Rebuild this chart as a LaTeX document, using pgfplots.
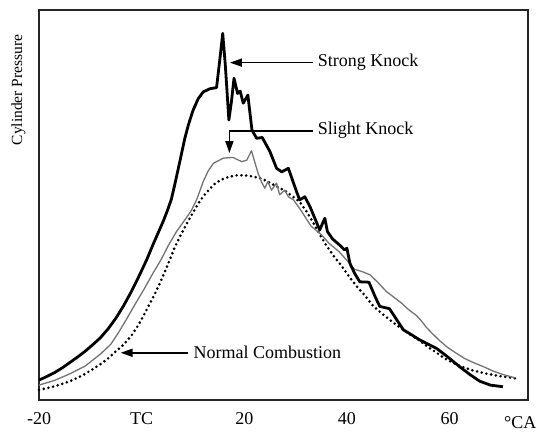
\documentclass[border=0pt]{standalone}
\usepackage{fontspec}
\setmainfont{Liberation Serif}
\usepackage{pgfplots}
\pgfplotsset{compat=1.18}
\usetikzlibrary{arrows.meta}

\begin{document}
\begin{tikzpicture}
\begin{axis}[
  scale only axis,
  width=489pt, height=390pt,
  xmin=-20, xmax=75.3, ymin=0, ymax=100,
  axis line style={line width=1.8pt, black!85},
  xtick={-20,0,20,40,60},
  xticklabels={-20,TC,20,40,60},
  ytick=\empty,
  major tick length=0pt,
  xticklabel style={font=\fontsize{18}{18}\selectfont, inner sep=0pt, yshift=-12pt},
  clip=false,
  ]
  % invisible frame that fixes the picture size
  \path (rel axis cs:-0.0798,-0.082) rectangle (rel axis cs:1.0286,1.0256);

  % normal combustion (dotted)
  \addplot[black, line width=2.9pt, line cap=round, dash pattern=on 0pt off 4.8pt] coordinates {
    (-20,2.6) (-18.5,3.0) (-17,3.5) (-15.5,4.1) (-14,4.8) (-12.5,5.7) (-11,6.7)
    (-9.5,7.9) (-8,9.2) (-6.5,10.7) (-5,12.5) (-3.5,14.2) (-2,16.5) (-0.5,19.5)
    (0.6,22.2) (1.5,24.5) (2.5,27) (3.5,29.8) (4.5,32.8) (5.5,36) (6.5,39.3)
    (7.7,42.5) (8.9,45.5) (10,48) (11,50.3) (12,52.2) (13.2,54) (14.3,55.5)
    (15.5,56.5) (17,57.2) (18.5,57.6) (20,57.6) (21.7,57.3) (23.5,56.7) (25,55.7)
    (26.5,54.6) (28,53.6) (29.5,52.1) (30.8,50.8) (32,48.6) (33.3,45.8) (34.7,42.5)
    (36,39.6) (37.5,36.8) (39,34.3) (40.5,31.5) (42,29.0) (43.5,26.8) (45,24.3)
    (46.5,22.5) (48,20.9) (49.5,19.4) (51,18.0) (52.5,16.6) (54.2,15.2) (56,13.4)
    (57.5,12.1) (59,10.7) (60.7,9.5) (62.5,8.5) (64.5,7.6) (67,6.8) (69,6.3)
    (71,5.9) (73,5.5)
  };

  % slight knock (thin grey)
  \addplot[black!55, line width=1.3pt, line join=round] coordinates {
    (-20,3.8) (-17,5.0) (-14,6.7) (-11,8.7) (-8,11.8) (-6,14.3) (-4.6,17.1)
    (-3,20.6) (-1.3,24.5) (0.6,28.7) (2.2,32.5) (3.8,36) (5.2,39.6) (6.8,43.2)
    (8.5,46.3) (9.7,48.6) (10.7,51.3) (11.4,53.8) (12.0,56.0) (13.0,58.8)
    (14.0,60.7) (15.9,62.0) (17.8,62.2) (19.5,61.1) (20.5,61.5) (21.4,63.9)
    (22.7,58.1) (23.4,55.8) (24.0,54.3) (24.6,56.0) (25.3,53.8) (26.3,55.6)
    (26.9,52.6) (27.9,53.8) (28.6,52.1) (29.6,51.3) (31.0,48.7) (33.0,44.6)
    (35.0,42.4) (36.5,40.2) (38.5,38.0) (40.4,35.2) (41.5,33.5) (43,32.9)
    (44.5,32.1) (46,30.2) (47.7,27.8) (49,26.5) (50.5,25) (52,23.2) (53.6,21.6)
    (54.5,20.3) (55.5,18.6) (56.6,17.1) (58,15.3) (59.5,13.6) (61.3,12.0)
    (63,10.6) (64.8,9.5) (66.7,8.5) (68.5,7.4) (70.5,6.5) (72.7,5.7)
  };

  % strong knock (thick black)
  \addplot[black, line width=2.8pt, line join=round] coordinates {
    (-20,5.1) (-18.5,6.0) (-17,7.0) (-15.5,8.2) (-14,9.6) (-12.5,11.0) (-11,12.5)
    (-9.5,14.2) (-8,16.0) (-6.5,18.3) (-5,21.0) (-3.5,24.2) (-2,27.8) (-0.5,31.8)
    (1,36.0) (2.2,39.8) (3.2,42.8) (4.2,45.8) (5.0,48.5) (5.8,51.5) (6.5,55.5)
    (7.5,61.5) (8.4,67.0) (9.1,70.5) (10.0,74.2) (11.0,77.2) (12.0,79.0)
    (13.3,79.8) (14.6,80.1) (15.3,88) (15.8,94.0) (16.3,86) (17.0,71.8)
    (17.5,76.5) (18.0,82.5) (18.7,78.6) (19.2,79.2) (19.8,76.1) (20.7,78.2)
    (21.5,69.2) (22.4,67.1) (23.5,67.3) (25.0,63.7) (26.3,59.4) (27.3,58.5)
    (28.6,59.4) (29.5,56.0) (30.2,53.4) (30.8,51.3) (31.8,52.1) (32.8,49.6)
    (34.7,43.6) (35.7,46.6) (36.2,43.2) (37.2,41.3) (38.6,39.7) (39.5,38.5)
    (40.0,38.9) (40.6,35.0) (41.5,32.5) (42.5,30.3) (44.3,30.2) (45.5,26.5)
    (46.4,24.0) (48.3,23.4) (49.5,21.0) (51.0,18.0) (52.5,16.8) (54.2,15.4)
    (56,14.2) (57.5,13.2) (59.5,11.2) (62.0,8.5) (64,6.5) (65.9,4.8) (68,3.8)
    (70.4,3.4)
  };

  % annotations
  \draw[line width=1.6pt, -{Triangle[length=12pt,width=8pt]}] (axis cs:33.3,86.5) -- (axis cs:17.2,86.5);
  \node[anchor=west, inner sep=0pt, font=\fontsize{18}{18}\selectfont] at (axis cs:34.3,86.5) {Strong Knock};
  \draw[line width=1.6pt, -{Triangle[length=12pt,width=8pt]}] (axis cs:33.3,69.0) -- (axis cs:17.1,69.0) -- (axis cs:17.1,63.3);
  \node[anchor=west, inner sep=0pt, font=\fontsize{18}{18}\selectfont] at (axis cs:34.3,69.2) {Slight Knock};
  \draw[line width=1.6pt, -{Triangle[length=12pt,width=8pt]}] (axis cs:9.1,12.1) -- (axis cs:-4.1,12.1);
  \node[anchor=west, inner sep=0pt, font=\fontsize{18}{18}\selectfont] at (axis cs:10.1,12.1) {Normal Combustion};

  % axis labels
  \node[rotate=90, inner sep=0pt, font=\fontsize{15.5}{15.5}\selectfont] at (rel axis cs:-0.0423,0.795) {Cylinder Pressure};
  \node[inner sep=0pt, font=\fontsize{18}{18}\selectfont] at (rel axis cs:0.984,-0.058) {°CA};
\end{axis}
\end{tikzpicture}
\end{document}
